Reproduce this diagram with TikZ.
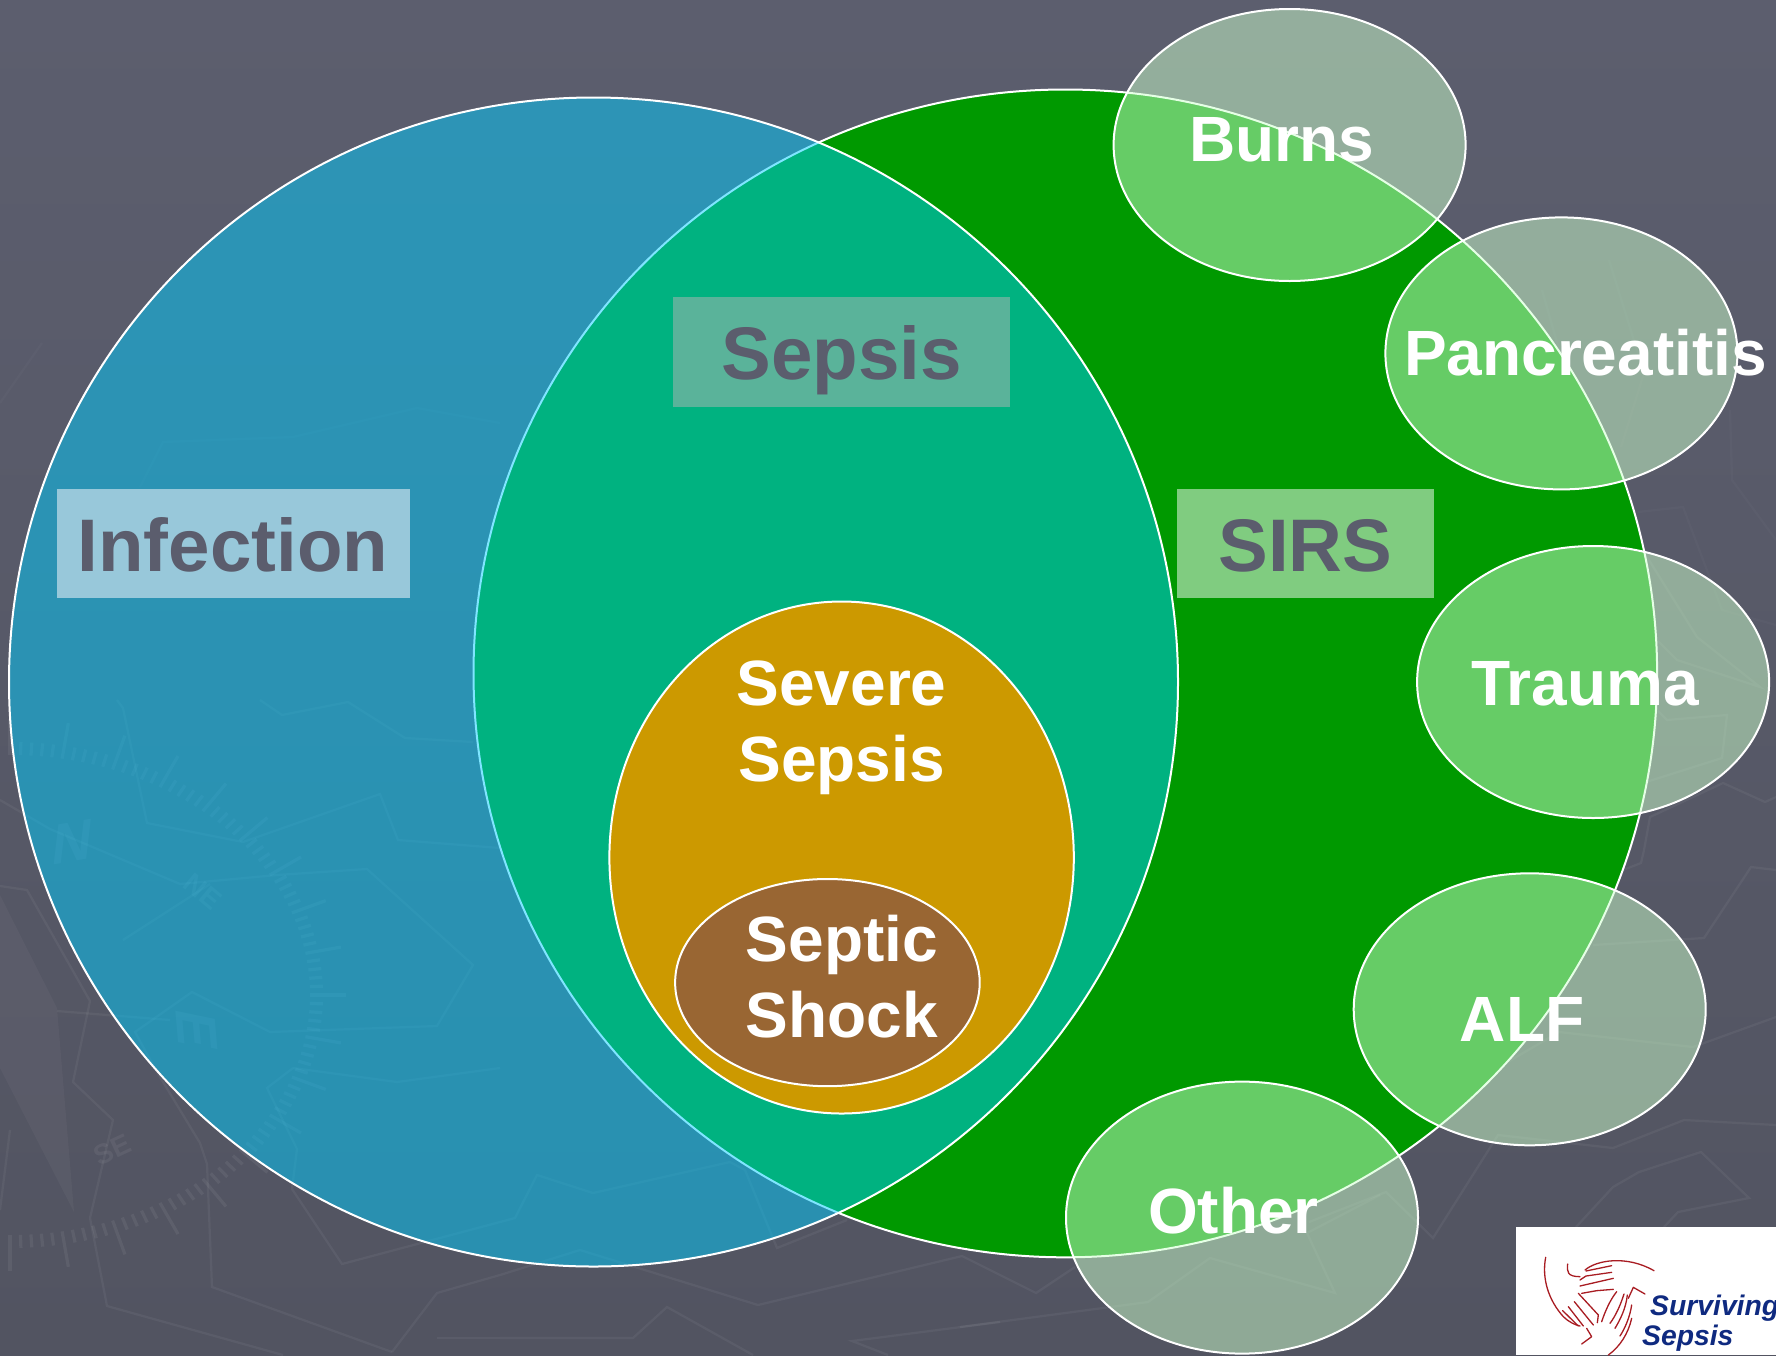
\documentclass[tikz,border=0pt]{standalone}
\usepackage{fontspec}
\setmainfont{Liberation Sans}
\usetikzlibrary{shapes.geometric}
\definecolor{bgtop}{HTML}{5C5E6E}
\definecolor{bgbot}{HTML}{525461}
\definecolor{infectfill}{HTML}{00CCFF}
\definecolor{sirsfill}{HTML}{009900}
\definecolor{severefill}{HTML}{CC9900}
\definecolor{shockfill}{HTML}{996633}
\definecolor{causefill}{HTML}{CCFFCC}
\definecolor{labeltext}{HTML}{5B5D6D}
\definecolor{handred}{HTML}{A81C22}
\definecolor{logonavy}{HTML}{0F2A80}
\tikzset{
  outlined/.style={ellipse,draw=white,line width=2pt,inner sep=0pt,outer sep=0pt},
  cause/.style={outlined,fill=causefill,fill opacity=.5,minimum width=352pt,minimum height=272pt},
  mapline/.style={draw=white,draw opacity=.05,line width=2.2pt,line join=miter},
  mapfaint/.style={draw=white,draw opacity=.022,line width=2.2pt},
  tick/.style={draw=white,draw opacity=.06,line width=3.2pt},
  maptext/.style={text=white,text opacity=.06,inner sep=0pt,font=\fontsize{56}{56}\selectfont\bfseries},
  whitetext/.style={text=white,anchor=base,inner sep=0pt,font=\fontsize{64}{70}\selectfont\bfseries},
  greytext/.style={text=labeltext,anchor=base,inner sep=0pt,font=\fontsize{74.5}{80}\selectfont\bfseries},
  labelbox/.style={inner sep=0pt},
  hand/.style={draw=handred,line width=1.3pt,line cap=round,line join=round},
  logotext/.style={text=logonavy,anchor=base west,inner sep=0pt,font=\fontsize{28.3}{30}\selectfont\bfseries\itshape}
}
\begin{document}
\begin{tikzpicture}[x=1pt,y=-1pt]
\useasboundingbox (0,0) rectangle (1776,1355);
% background
\shade[top color=bgtop,bottom color=bgbot] (0,0) rectangle (1776,1355);
\fill[white,fill opacity=.035] (0,895) -- (57,1008) -- (74,1212) -- (0,1068) -- cycle;
\foreach \i in {0,...,90}{
  \pgfmathsetmacro{\ang}{-90+2*\i}
  \pgfmathsetmacro{\len}{ifthenelse(mod(\i,5)==0,36,13)}
  \draw[tick] ({10+300*cos(\ang)},{995+240*sin(\ang)}) -- ({10+(300+\len)*cos(\ang)},{995+(240+\len)*sin(\ang)});
}
\node[maptext,rotate=10,xslant=.3] (mapN) at (73,842) {N};
\node[maptext,rotate=-40,font=\fontsize{28}{28}\selectfont\bfseries] (mapNE) at (203,892) {NE};
\node[maptext,rotate=-85,xslant=.3] (mapE) at (197,1030) {E};
\node[maptext,rotate=25,font=\fontsize{28}{28}\selectfont\bfseries] (mapSE) at (112,1150) {SE};
\path[mapline] (0,800) -- (50,829) -- (180,884) -- (277,875) -- (367,869) -- (473,965) -- (437,1026) -- (270,1032) -- (192,992) -- (135,1032) -- (157,1072) -- (200,1143) -- (207,1164) -- (212,1287) -- (392,1352);
\path[mapline] (117,700) -- (123,708) -- (147,823) -- (243,842) -- (380,794) -- (398,840) -- (500,848);
\path[mapline] (260,700) -- (282,715) -- (348,702) -- (405,738) -- (473,742);
\path[mapline] (0,886) -- (27,890) -- (90,1001) -- (73,1082) -- (113,1120) -- (90,1218) -- (107,1306) -- (283,1355);
\path[mapline] (57,1011) -- (170,1020);
\path[mapline] (123,940) -- (210,884);
\path[mapline] (293,1068) -- (397,1082) -- (500,1068);
\path[mapline] (293,1068) -- (267,1088) -- (297,1149) -- (292,1189) -- (342,1264) -- (500,1222) -- (515,1218) -- (537,1175) -- (593,1193) -- (730,1162) -- (745,1170) -- (777,1248) -- (847,1220);
\path[mapline] (392,1352) -- (437,1293) -- (500,1275) -- (580,1250) -- (758,1305) -- (962,1256) -- (1036,1293) -- (1075,1267);
\path[mapline] (437,1338) -- (458,1338) -- (500,1338);
\path[mapline] (500,1338) -- (633,1338) -- (667,1307) -- (753,1355);
\path[mapline] (1000,1322) -- (852,1341) -- (888,1355);
\path[mapline] (10,1130) -- (0,1210);
\path[mapfaint] (0,403) -- (42,343);
\path[mapfaint] (140,487) -- (163,442) -- (293,437) -- (417,408) -- (500,423);
\path[mapline] (960,1327) -- (1148,1302) -- (1210,1258) -- (1335,1293) -- (1307,1233) -- (1380,1195);
\path[mapline] (1309,1222) -- (1386,1192) -- (1433,1238) -- (1498,1135) -- (1613,1148) -- (1684,1120) -- (1776,1125);
\path[mapline] (1593,945) -- (1704,938) -- (1751,867) -- (1776,870);
\path[mapline] (1506,1063) -- (1559,1032) -- (1693,1047) -- (1776,1017);
\path[mapline] (1576,1227) -- (1613,1187) -- (1639,1172) -- (1701,1152) -- (1749,1198) -- (1678,1212) -- (1664,1227);
\path[mapline] (1623,870) -- (1641,863) -- (1644,850) -- (1650,817) -- (1723,783) -- (1765,802) -- (1776,797);
\path[mapfaint] (1638,512) -- (1683,507) -- (1722,610) -- (1776,625);
\path[mapfaint] (1730,410) -- (1732,480) -- (1776,540);
\path[mapline] (1647,557) -- (1697,637) -- (1760,687) -- (1677,660) -- (1657,640);
\path[mapline] (1657,710) -- (1667,720) -- (1727,715) -- (1722,758) -- (1643,783);
\path[mapfaint] (1609,260) -- (1644,373) -- (1621,447);
\path[mapfaint] (1542,290) -- (1564,367);
% main sets
\node[outlined,fill=sirsfill,minimum width=1183.6pt,minimum height=1167.8pt] (sirs) at (1065.3,673.4) {};
\node[outlined,fill=infectfill,fill opacity=.5,minimum width=1169pt,minimum height=1169pt] (infection) at (593.5,682) {};
\node[labelbox,minimum width=353pt,minimum height=109pt,fill={rgb,255:red,152;green,200;blue,218}] (infbox) at (233.5,543.5) {};
\node[labelbox,minimum width=337pt,minimum height=110pt,fill={rgb,255:red,90;green,179;blue,154}] (sepbox) at (841.5,352) {};
\node[labelbox,minimum width=257pt,minimum height=109pt,fill={rgb,255:red,128;green,204;blue,128}] (sirsbox) at (1305.5,543.5) {};
\node[outlined,fill=severefill,minimum width=464.4pt,minimum height=512pt] (severe) at (841.6,857.5) {};
\node[outlined,fill=shockfill,minimum width=304.6pt,minimum height=207.2pt] (shock) at (827.4,982.6) {};
% causes of SIRS
\node[cause] (burns) at (1289.6,145) {};
\node[cause] (panc) at (1561.4,353.4) {};
\node[cause] (trauma) at (1593.1,682) {};
\node[cause] (alf) at (1529.7,1009.3) {};
\node[cause] (other) at (1242,1217.6) {};
% labels
\node[greytext] (tinf) at (232.8,571) {Infection};
\node[greytext] (tsep) at (841.6,379) {Sepsis};
\node[greytext] (tsirs) at (1305.5,571) {SIRS};
\node[whitetext] (tsev1) at (841.6,705.7) {Severe};
\node[whitetext] (tsev2) at (841.6,781.6) {Sepsis};
\node[whitetext] (tsho1) at (842,961) {Septic};
\node[whitetext] (tsho2) at (842,1037.5) {Shock};
\node[whitetext] (tburns) at (1281.7,161.7) {Burns};
\node[whitetext] (tpanc) at (1585.5,375) {Pancreatitis};
\node[whitetext] (ttrauma) at (1585,705) {Trauma};
\node[whitetext] (talf) at (1522,1041.7) {ALF};
\node[whitetext] (tother) at (1233.5,1233) {Other};
% logo
\fill[white] (1516,1227) rectangle (1776,1355);
\begin{scope}
\clip (1516,1227) rectangle (1776,1355);
\begin{scope}[shift={(1480,1200)},x=.3333pt,y=-.3333pt]
\draw[hand] (197,172) .. controls (185,235) and (205,300) .. (250,350) .. controls (265,365) and (285,375) .. (300,378);
\draw[hand] (263,192) .. controls (260,215) and (262,230) .. (300,230);
\draw[hand] (315,210) .. controls (350,180) and (440,165) .. (522,212);
\draw[hand] (318,213) -- (395,197);
\draw[hand] (300,240) -- (318,228) -- (395,217);
\draw[hand] (300,258) -- (400,235);
\draw[hand] (305,280) -- (350,272) -- (400,268);
\draw[hand] (445,295) -- (460,262) -- (495,282);
\draw[hand] (295,280) -- (355,345) -- (352,368);
\draw[hand] (283,305) -- (340,375);
\draw[hand] (265,320) -- (310,378);
\draw[hand] (248,332) -- (295,378);
\draw[hand] (410,275) .. controls (390,300) and (375,335) .. (365,365);
\draw[hand] (432,282) .. controls (420,320) and (405,350) .. (390,370);
\draw[hand] (442,285) .. controls (438,325) and (420,360) .. (405,385);
\draw[hand] (455,315) .. controls (450,350) and (435,385) .. (420,408);
\draw[hand] (455,355) .. controls (445,400) and (420,440) .. (385,465);
\draw[hand] (320,385) -- (335,410) -- (305,432);
\end{scope}
\node[logotext] (logo1) at (1650,1315) {Surviving};
\node[logotext] (logo2) at (1642,1345.7) {Sepsis};
\end{scope}
\end{tikzpicture}
\end{document}
